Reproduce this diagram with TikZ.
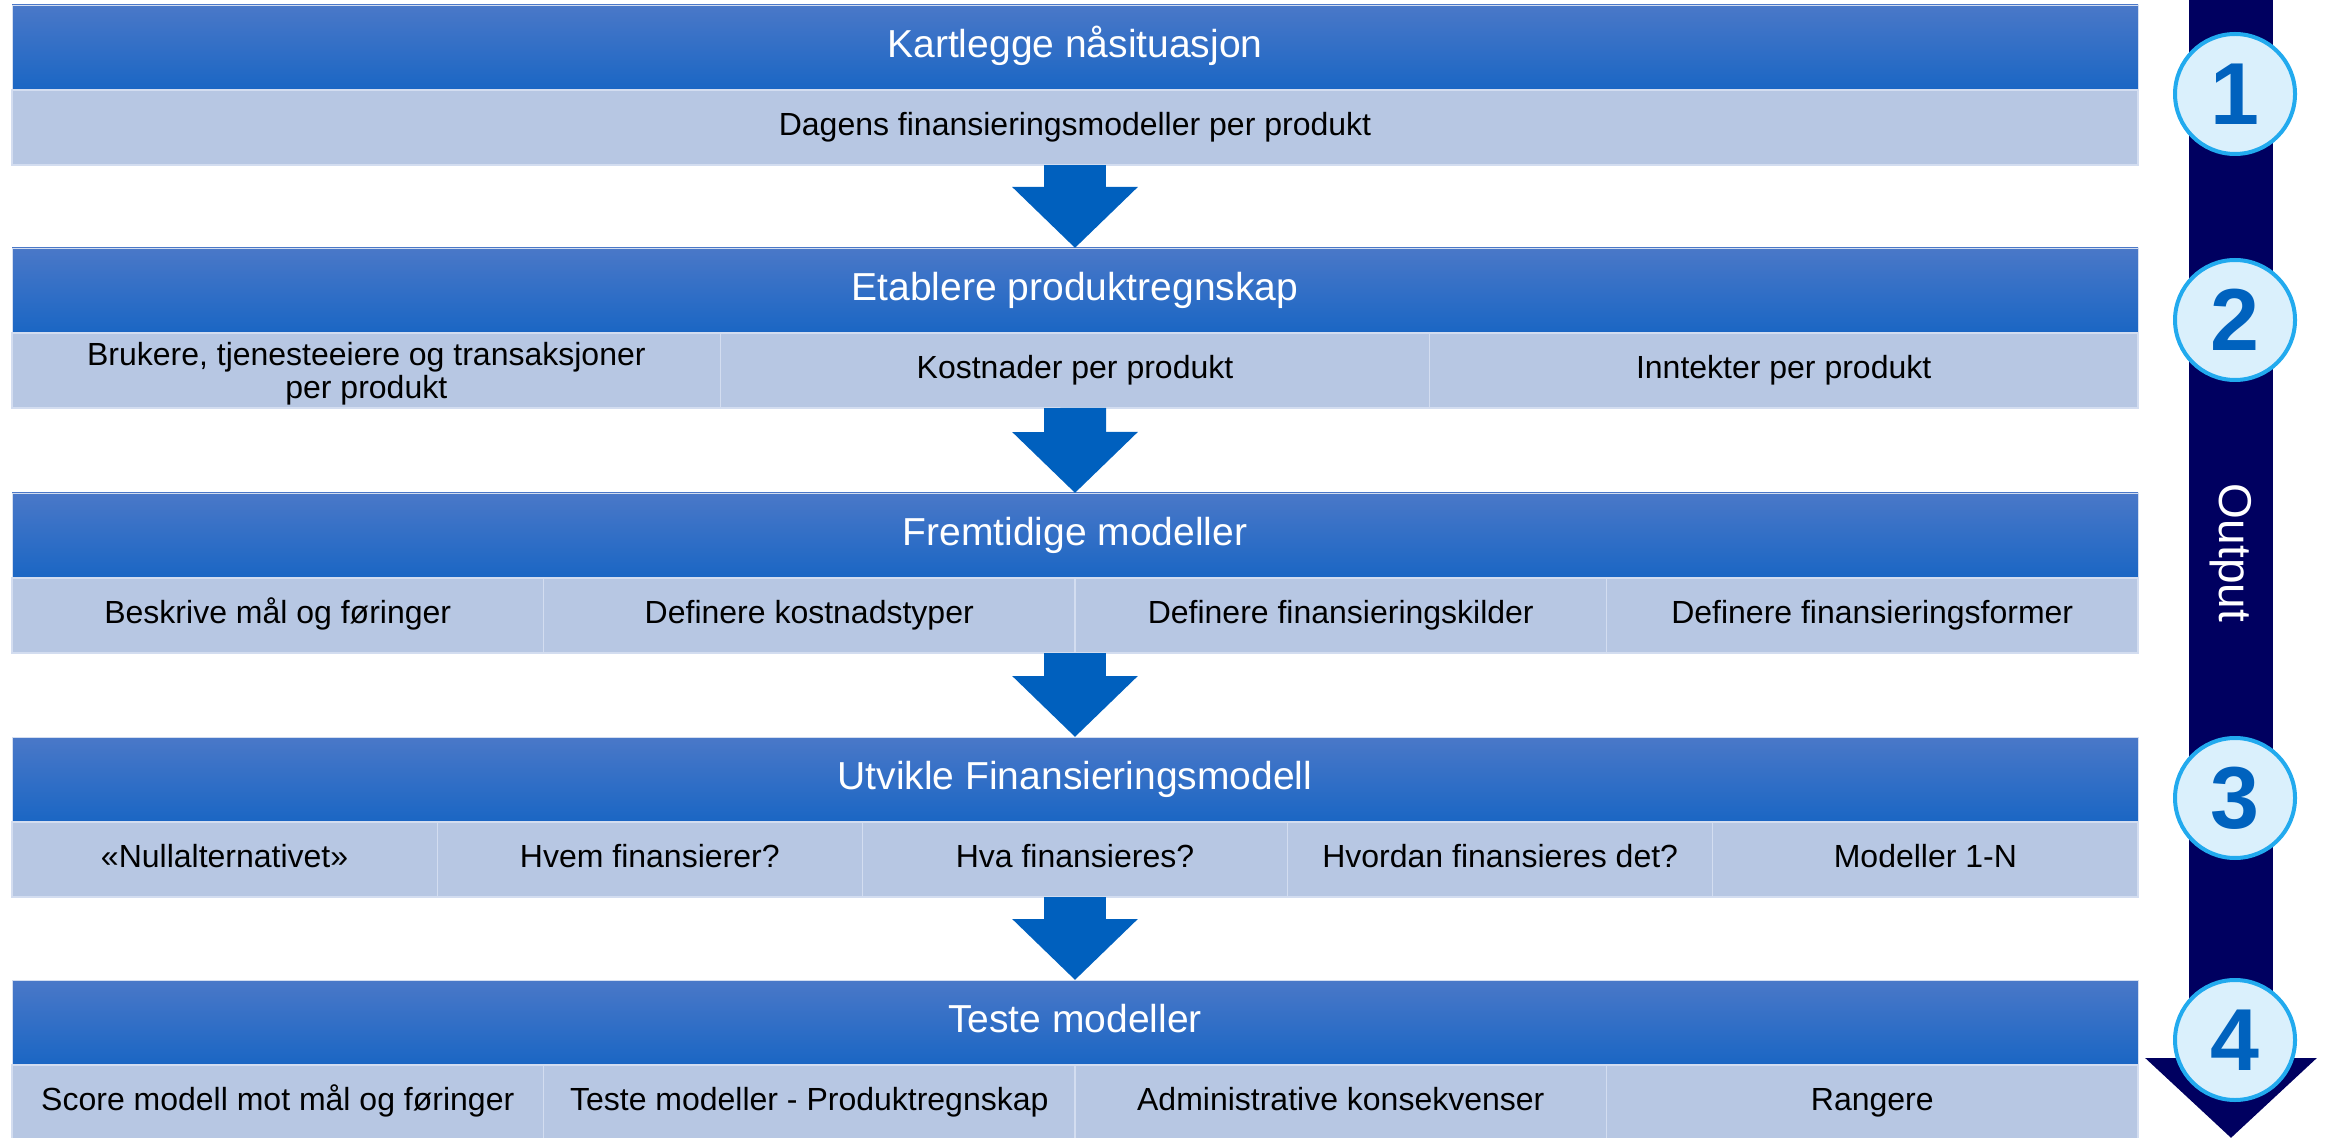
\documentclass[tikz,border=0pt]{standalone}
\usepackage{fontspec}
\setmainfont{Liberation Sans}
\usetikzlibrary{positioning,arrows.meta}
\definecolor{headtop}{HTML}{4A78C8}
\definecolor{headbot}{HTML}{1A66C4}
\definecolor{subfill}{HTML}{B7C7E3}
\definecolor{subline}{HTML}{D3DDF0}
\definecolor{flowblue}{HTML}{0060BE}
\definecolor{navy}{HTML}{000060}
\definecolor{ringblue}{HTML}{22AAEE}
\definecolor{ringfill}{HTML}{DAF0FC}
\definecolor{numblue}{HTML}{0062BE}

\begin{document}
\begin{tikzpicture}[x=0.5pt,y=-0.5pt]
\tikzstyle{head}=[anchor=north west,inner sep=0,outer sep=0,minimum width=1063pt,minimum height=42.5pt,top color=headtop,bottom color=headbot,draw=subline,line width=0.4pt,text=white,text height=14pt,text depth=4pt,font=\fontsize{19.5}{20}\selectfont]
\tikzstyle{cell}=[inner sep=0,outer sep=0,minimum height=37.5pt,fill=subfill,draw=subline,line width=0.6pt,align=center,text height=11.5pt,text depth=3.5pt,font=\fontsize{16}{16.5}\selectfont]
\tikzstyle{cell3}=[cell,minimum width=354.33pt]
\tikzstyle{cell4}=[cell,minimum width=265.75pt]
\tikzstyle{cell5}=[cell,minimum width=212.6pt]
\tikzstyle{flow}=[draw=flowblue,line width=31pt,-{Triangle[length=30.5pt,width=61pt]}]
\tikzstyle{num}=[shape=circle,draw=ringblue,line width=2pt,fill=ringfill,minimum size=60pt,inner sep=0,text=numblue,font=\fontsize{44}{44}\selectfont\bfseries]
\useasboundingbox (0,0) rectangle (2333,1138);

% output arrow on the right
\coordinate (otop) at (2231,0);
\coordinate (obot) at (2231,1138);
\draw[navy,line width=42pt,-{Triangle[length=40pt,width=83.5pt]}] (otop) -- (obot);
\node[rotate=-90,text=white,font=\fontsize{23}{23}\selectfont] (out) at (2231,553) {Output};

\node[head] (h1) at (12,5) {Kartlegge nåsituasjon};
\node[cell,minimum width=1063pt,below right=0pt and 0pt of h1.south west] (s1) {Dagens finansieringsmodeller per produkt};

\node[head] (h2) at (12,248) {Etablere produktregnskap};
\node[cell3,text height=,text depth=,below right=0pt and 0pt of h2.south west] (s21) {};
\node[font=\fontsize{16}{16.5}\selectfont,align=center,yshift=-1.5pt] (s21t) at (s21) {Brukere, tjenesteeiere og transaksjoner\\per produkt};
\node[cell3,right=0pt of s21] (s22) {Kostnader per produkt};
\node[cell3,right=0pt of s22] (s23) {Inntekter per produkt};

\node[head] (h3) at (12,493) {Fremtidige modeller};
\node[cell4,below right=0pt and 0pt of h3.south west] (s31) {Beskrive mål og føringer};
\node[cell4,right=0pt of s31] (s32) {Definere kostnadstyper};
\node[cell4,right=0pt of s32] (s33) {Definere finansieringskilder};
\node[cell4,right=0pt of s33] (s34) {Definere finansieringsformer};

\node[head] (h4) at (12,737) {Utvikle Finansieringsmodell};
\node[cell5,below right=0pt and 0pt of h4.south west] (s41) {«Nullalternativet»};
\node[cell5,right=0pt of s41] (s42) {Hvem finansierer?};
\node[cell5,right=0pt of s42] (s43) {Hva finansieres?};
\node[cell5,right=0pt of s43] (s44) {Hvordan finansieres det?};
\node[cell5,right=0pt of s44] (s45) {Modeller 1-N};

\node[head] (h5) at (12,980) {Teste modeller};
\node[cell4,below right=0pt and 0pt of h5.south west] (s51) {Score modell mot mål og føringer};
\node[cell4,right=0pt of s51] (s52) {Teste modeller - Produktregnskap};
\node[cell4,right=0pt of s52] (s53) {Administrative konsekvenser};
\node[cell4,right=0pt of s53] (s54) {Rangere};

\draw[flow] (s1.south) -- (h2.north);
\draw[flow] (s22.south) -- (h3.north);
\draw[flow] (h3.south |- s31.south) -- (h4.north);
\draw[flow] (s43.south) -- (h5.north);

\node[num] (n1) at (2235,94) {1};
\node[num] (n2) at (2235,320) {2};
\node[num] (n3) at (2235,798) {3};
\node[num] (n4) at (2235,1040) {4};
\end{tikzpicture}
\end{document}
